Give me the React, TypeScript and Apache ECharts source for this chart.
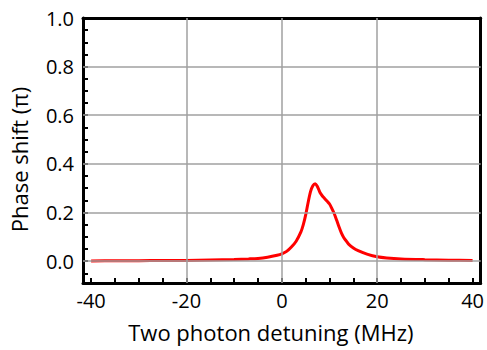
import React, { useEffect, useRef } from "react";
import * as echarts from "echarts";

const detuning = [-40, -35, -30, -25, -20, -15, -10, -7, -5, -3, -1, 0, 1, 2, 3, 4, 4.5, 5, 5.5, 6, 6.5, 7, 7.5, 8, 8.5, 9, 9.5, 10, 10.5, 11, 11.5, 12, 12.5, 13, 13.5, 14, 15, 16, 18, 20, 22, 25, 30, 35, 40];
const phaseShift = [0.001, 0.0015, 0.002, 0.0025, 0.003, 0.005, 0.007, 0.009, 0.011, 0.016, 0.024, 0.03, 0.04, 0.058, 0.082, 0.12, 0.15, 0.19, 0.24, 0.285, 0.31, 0.318, 0.305, 0.282, 0.268, 0.257, 0.246, 0.235, 0.216, 0.195, 0.168, 0.14, 0.115, 0.096, 0.083, 0.07, 0.054, 0.043, 0.028, 0.018, 0.013, 0.009, 0.006, 0.004, 0.003];

const xLabels = [-40, -20, 0, 20, 40];
const xTicks = [-40, -35, -30, -25, -20, -15, -10, -5, 0, 5, 10, 15, 20, 25, 30, 35, 40];
const xGrid = [-20, 0, 20];
const yLabels = [0, 0.2, 0.4, 0.6, 0.8, 1.0];
const yTicks = [-0.05, 0, 0.05, 0.1, 0.15, 0.2, 0.25, 0.3, 0.35, 0.4, 0.45, 0.5, 0.55, 0.6, 0.65, 0.7, 0.75, 0.8, 0.85, 0.9, 0.95];
const yGrid = [0, 0.2, 0.4, 0.6, 0.8];

const FONT = "Open Sans";

export default function App() {
  const ref = useRef<HTMLDivElement>(null);
  useEffect(() => {
    if (!ref.current) return;
    const chart = echarts.init(ref.current, undefined, { renderer: "svg" });
    const frameLine = { show: true, lineStyle: { color: "#000", width: 3 } };
    chart.setOption({
      animation: false,
      backgroundColor: "#fff",
      grid: { left: 82, top: 18, right: 4, bottom: 67, containLabel: false },
      xAxis: [
        {
          type: "value",
          min: -41.7,
          max: 41.7,
          position: "bottom",
          axisLine: { ...frameLine, onZero: false },
          axisTick: { show: true, inside: true, length: 5, customValues: xTicks, lineStyle: { color: "#000", width: 2 } },
          axisLabel: { customValues: xLabels, color: "#000", fontFamily: FONT, fontSize: 20, margin: 7 },
          splitLine: { show: false },
          name: "Two photon detuning (MHz)",
          nameLocation: "middle",
          nameGap: 38,
          nameTextStyle: { color: "#000", fontFamily: FONT, fontSize: 22, padding: [0, 22, 0, 0] },
        },
        {
          type: "value",
          min: -41.7,
          max: 41.7,
          position: "top",
          axisLine: { ...frameLine, onZero: false },
          axisTick: { show: false },
          axisLabel: { show: false },
          splitLine: { show: false },
        },
      ],
      yAxis: [
        {
          type: "value",
          min: -0.09,
          max: 1.0,
          position: "left",
          axisLine: { ...frameLine, onZero: false },
          axisTick: { show: true, inside: true, length: 5, customValues: yTicks, lineStyle: { color: "#000", width: 2 } },
          axisLabel: {
            customValues: yLabels,
            color: "#000",
            fontFamily: FONT,
            fontSize: 20,
            margin: 9,
            formatter: (v: number) => v.toFixed(1),
          },
          splitLine: { show: false },
          name: "Phase shift (π)",
          nameLocation: "middle",
          nameGap: 53,
          nameRotate: 90,
          nameTextStyle: { color: "#000", fontFamily: FONT, fontSize: 22, padding: [0, 18, 0, 0] },
        },
        {
          type: "value",
          min: -0.09,
          max: 1.0,
          position: "right",
          axisLine: { ...frameLine, onZero: false },
          axisTick: { show: false },
          axisLabel: { show: false },
          splitLine: { show: false },
        },
      ],
      series: [
        {
          type: "line",
          data: [],
          z: 1,
          markLine: {
            silent: true,
            symbol: "none",
            label: { show: false },
            lineStyle: { color: "#a0a0a0", width: 1.5, type: "solid" },
            data: [
              ...xGrid.map((v) => ({ xAxis: v })),
              ...yGrid.map((v) => ({ yAxis: v })),
            ],
          },
        },
        {
          type: "line",
          z: 3,
          data: detuning.map((x, i) => [x, phaseShift[i]]),
          showSymbol: false,
          smooth: 0.3,
          lineStyle: { color: "#ff0000", width: 3 },
        },
      ],
    });
    return () => chart.dispose();
  }, []);
  return <div ref={ref} style={{ position: "absolute", left: 0, top: 0, width: 487, height: 350 }} />;
}
